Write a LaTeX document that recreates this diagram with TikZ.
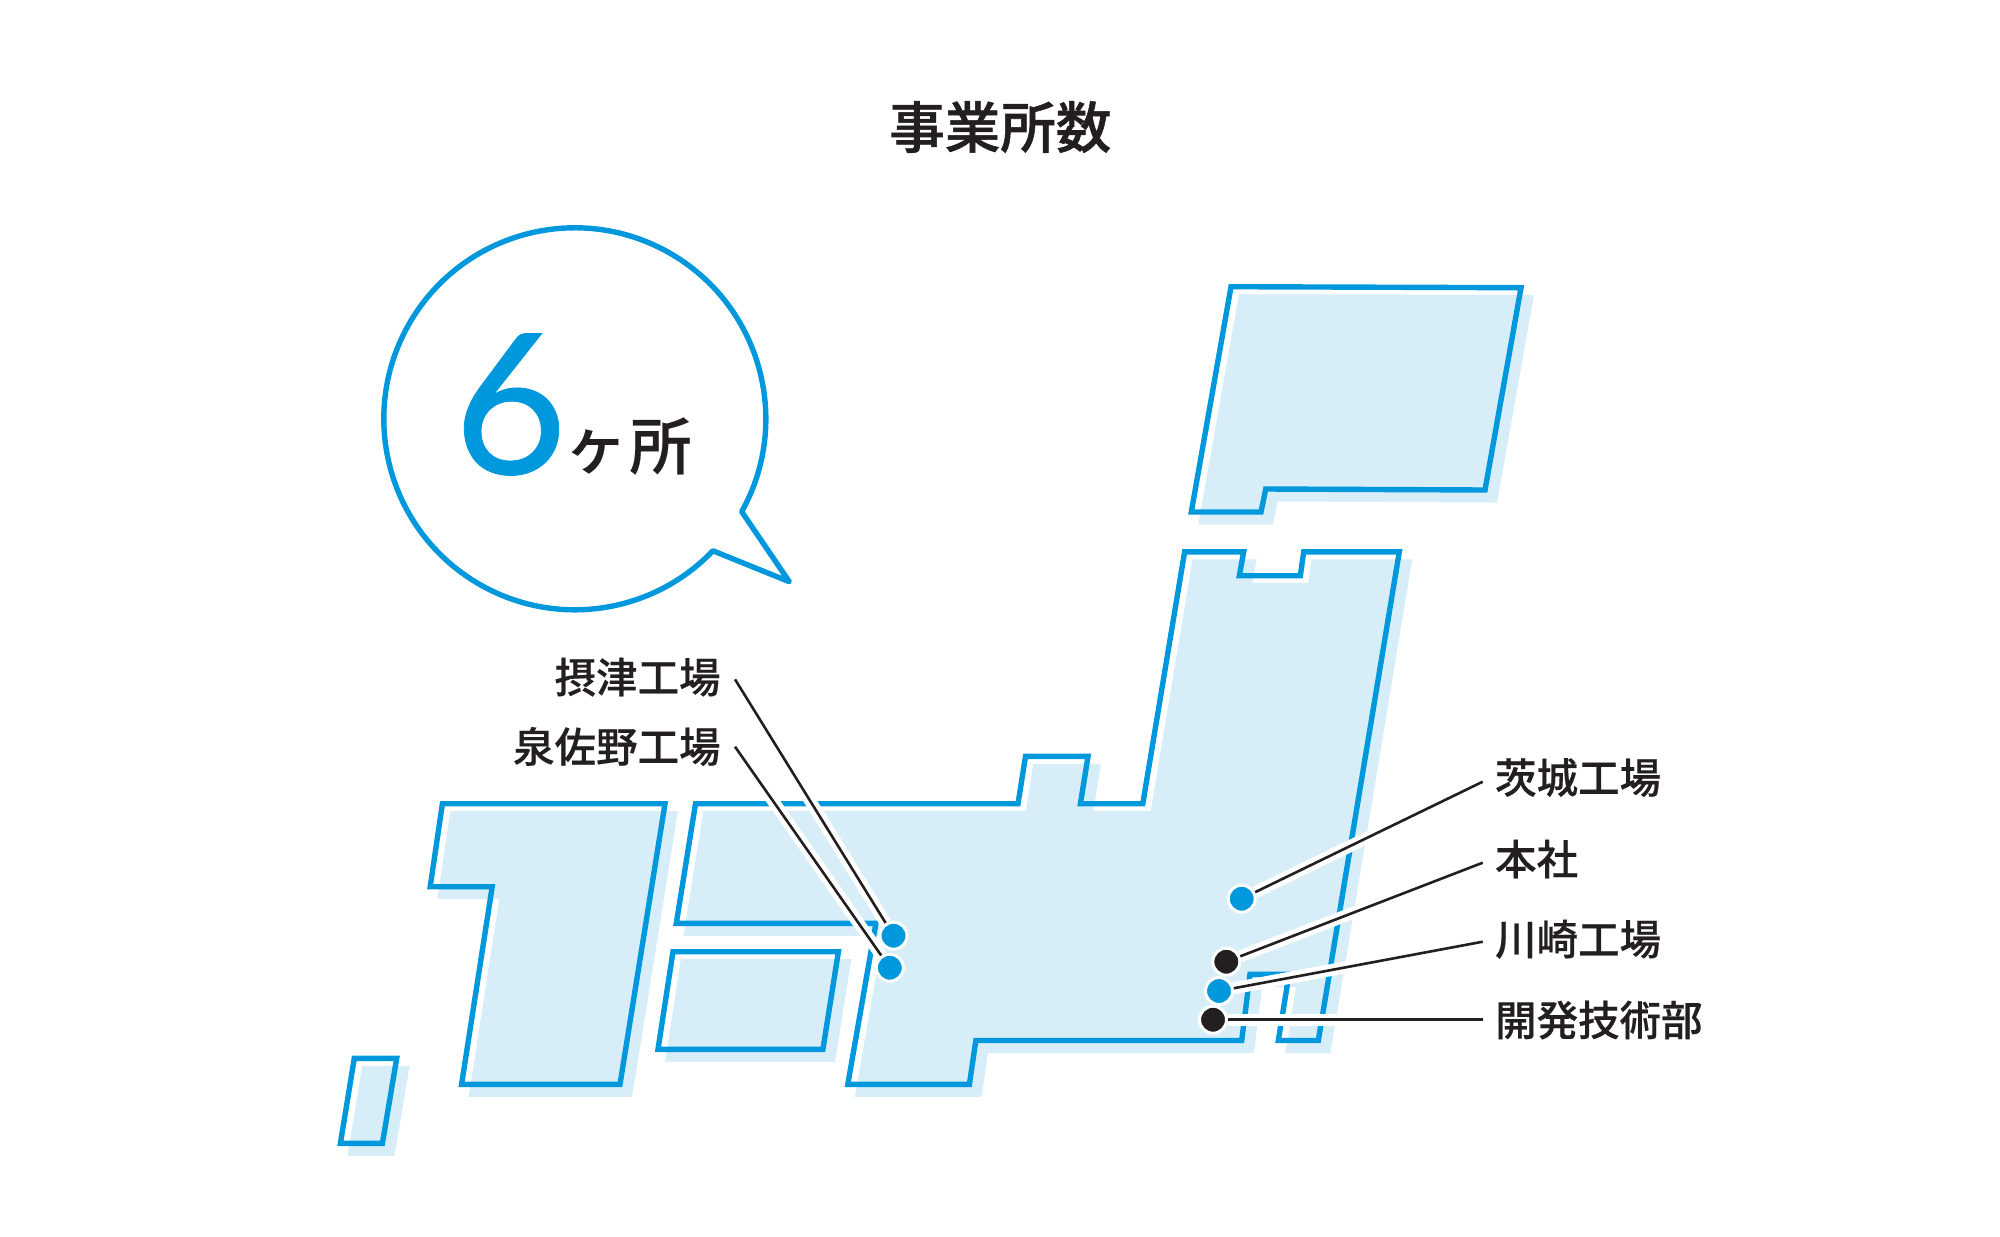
\documentclass[tikz,border=0pt]{standalone}
\usepackage{fontspec}
\setmainfont[FakeBold=0.4]{Noto Sans CJK JP Medium}
\newfontfamily\titlefont[FakeBold=1]{Noto Sans CJK JP Medium}
\newfontfamily\numfont[FakeBold=0.4]{Lato}
\definecolor{mapblue}{HTML}{0098DD}
\definecolor{maplight}{HTML}{D7EEF9}
\definecolor{inkblack}{HTML}{231F20}
\newcommand{\landpaths}{
    (442.4,803.7) -- (665,803.7) -- (620,1084.3) -- (461.6,1084.3) -- (492.2,886.7) -- (430.2,886.7) -- cycle
    (695.5,803.7) -- (1018,803.7) -- (1025.5,756.4) -- (1088,756.4) -- (1080.4,803.7) -- (1142.8,803.7) -- (1184.6,551.8) -- (1243.7,551.8) -- (1239.3,575.7) -- (1300.3,575.7) -- (1303.7,551.8) -- (1399.3,551.8) -- (1318.3,1040.5) -- (1278.3,1040.5) -- (1289,974.3) -- (1250,974.3) -- (1241.7,1040.5) -- (975.8,1040.5) -- (969.4,1084.3) -- (847.8,1084.3) -- (875.9,923.3) -- (676.3,923.3) -- cycle
    (1231,286.7) -- (1521,287.7) -- (1485,490) -- (1265.7,489) -- (1261,512) -- (1191.3,512) -- cycle
    (673,951.7) -- (838.4,951.7) -- (822.9,1049.3) -- (658,1049.3) -- cycle
    (354.3,1058.3) -- (396.7,1058.3) -- (382.4,1143.3) -- (340.4,1143.3) -- cycle
}
\tikzset{
    landshadow/.style={fill=maplight, draw=maplight, line width=2.5pt},
    landline/.style={draw=mapblue, line width=2.7pt},
    bubble/.style={draw=mapblue, fill=white, line width=2.7pt, line join=round},
    place/.style={circle, minimum size=13.5pt, inner sep=0pt, draw=white, line width=1.5pt},
    leader/.style={draw=inkblack, line width=1.3pt, preaction={draw=white, line width=6pt}},
    lbl/.style={text=inkblack, font=\fontsize{20.75}{24}\selectfont, text height=16pt, inner ysep=0pt},
    lblleft/.style={lbl, anchor=east, inner xsep=7pt},
    lblright/.style={lbl, anchor=west, inner xsep=6pt}
}
\begin{document}
\begin{tikzpicture}[x=0.5pt, y=-0.5pt]
    \useasboundingbox (0,0) rectangle (2000,1236);
    \node[text=inkblack, font=\fontsize{27.75}{32}\titlefont] (title) at (1000.3,127) {事業所数};

    % speech bubble
    \draw[bubble] (741.7,511.7) arc[start angle=-29.1, end angle=316.3, radius=95.5pt] -- (789.3,581.7) -- cycle;
    \node[text=mapblue, font=\fontsize{98}{110}\numfont] (count) at (510.5,404.5) {6};
    \node[text=inkblack, font=\fontsize{31}{36}\selectfont] (ke) at (596,451.5) {ヶ};
    \node[text=inkblack, font=\fontsize{31}{36}\selectfont] (sho) at (660.5,446) {所};

    % map
    \path[landshadow, shift={(10,10)}] \landpaths;
    \path[landline] \landpaths;

    \node[lblleft, text depth=2.5pt] (settsuLbl) at (735,679.3) {摂津工場};
    \node[lblleft, text depth=0.4pt] (izumisanoLbl) at (735,746.7) {泉佐野工場};
    \node[lblright, text depth=4.4pt] (ibarakiLbl) at (1482.7,781.7) {茨城工場};
    \node[lblright, text depth=3.9pt] (honshaLbl) at (1482.7,862.7) {本社};
    \node[lblright, text depth=2.9pt] (kawasakiLbl) at (1482.7,941.7) {川崎工場};
    \node[lblright, text depth=0pt] (kaihatsuLbl) at (1482.7,1019.7) {開発技術部};

    \node[place, fill=mapblue] (settsu) at (893.5,935.7) {};
    \node[place, fill=mapblue] (izumisano) at (889.8,967.7) {};
    \node[place, fill=mapblue] (ibaraki) at (1241.7,898.7) {};
    \node[place, fill=inkblack] (honsha) at (1226.3,961.7) {};
    \node[place, fill=mapblue] (kawasaki) at (1219,991) {};
    \node[place, fill=inkblack] (kaihatsu) at (1213,1019.7) {};

    \draw[leader] (settsuLbl.east) -- (settsu);
    \draw[leader] (izumisanoLbl.east) -- (izumisano);
    \draw[leader] (ibarakiLbl.west) -- (ibaraki);
    \draw[leader] (honshaLbl.west) -- (honsha);
    \draw[leader] (kawasakiLbl.west) -- (kawasaki);
    \draw[leader] (kaihatsuLbl.west) -- (kaihatsu);
\end{tikzpicture}
\end{document}
